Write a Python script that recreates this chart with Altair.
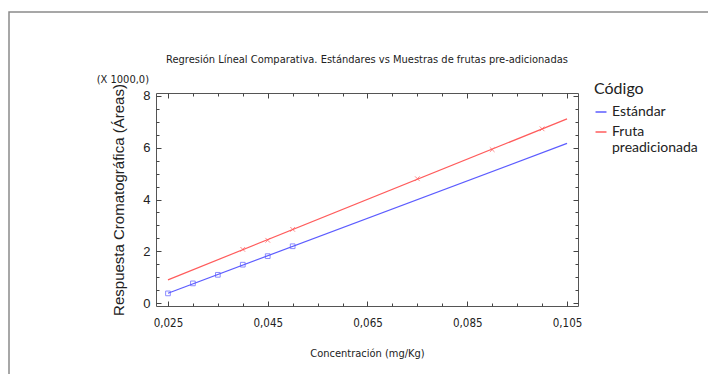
import altair as alt
import pandas as pd

# ---------------- data (areas in thousands) -------------
series_names = ["Estándar", "Fruta preadicionada"]
conc_est = [0.025, 0.030, 0.035, 0.040, 0.045, 0.050]
area_est = [0.385, 0.77, 1.10, 1.49, 1.82, 2.20]
conc_fru = [0.040, 0.045, 0.050, 0.075, 0.090, 0.100]
area_fru = [2.08, 2.43, 2.85, 4.80, 5.92, 6.72]
line_extent = [0.025, 0.105]

x_labels = [0.025, 0.045, 0.065, 0.085, 0.105]
x_ticks = [0.025, 0.030, 0.035, 0.040, 0.045, 0.050, 0.055, 0.060, 0.065,
           0.070, 0.075, 0.080, 0.085, 0.090, 0.095, 0.100, 0.105]
y_labels = [0, 2, 4, 6, 8]
y_ticks = [0, 0.5, 1, 1.5, 2, 2.5, 3, 3.5, 4, 4.5, 5, 5.5, 6, 6.5, 7, 7.5, 8]
colors = ["#5c5cff", "#ff5c5c"]

TITLE = "Regresión Líneal Comparativa. Estándares vs Muestras de frutas pre-adicionadas"
Y_TITLE = "Respuesta Cromatográfica (Áreas)"
X_TITLE = "Concentración (mg/Kg)"
UNIT = "(X 1000,0)"

W, H = 422, 213
NARROW = "DejaVu Sans Condensed, sans-serif"
SANS = "Liberation Sans, Arial, sans-serif"
LEG = "Lato, Open Sans, sans-serif"
TICK_COLOR = "#444444"

df = pd.DataFrame({
    "conc": conc_est + conc_fru,
    "area": area_est + area_fru,
    "serie": [series_names[0]] * len(conc_est) + [series_names[1]] * len(conc_fru),
})
one = pd.DataFrame({"k": [0]})

x_scale = alt.Scale(domain=[0.0226, 0.1072], nice=False, zero=False)
y_scale = alt.Scale(domain=[-0.1, 8.1], nice=False, zero=False)
c_scale = alt.Scale(domain=series_names, range=colors)

x_tick_size = {"condition": {"test": "abs((datum.value - 0.025) / 0.02 - round((datum.value - 0.025) / 0.02)) < 0.01", "value": 5}, "value": 3}
y_tick_size = {"condition": {"test": "abs(datum.value / 2 - round(datum.value / 2)) < 0.01", "value": 5}, "value": 3}

border = alt.Chart(one).mark_rect(fill="white", fillOpacity=0, stroke="#8a8a8a", strokeWidth=1.5).encode(
    x=alt.value(-147), x2=alt.value(700), y=alt.value(-81), y2=alt.value(420)
)

lines = alt.Chart(df).transform_regression(
    "conc", "area", groupby=["serie"], extent=line_extent
).mark_line(strokeWidth=1.2).encode(
    x=alt.X("conc:Q", scale=x_scale, axis=alt.Axis(
        values=x_labels, ticks=False, tickSize=0, domain=False, grid=False,
        labelExpr="replace(format(datum.value, '.3f'), '.', ',')",
        labelFont=NARROW, labelFontSize=11.5, labelColor="#222222", labelPadding=11,
        title=X_TITLE, titleFont=NARROW, titleFontSize=11, titleFontWeight="normal",
        titleColor="#222222", titleX=W / 2, titleY=47, titleBaseline="middle")),
    y=alt.Y("area:Q", scale=y_scale, axis=alt.Axis(
        values=y_labels, ticks=False, tickSize=0, domain=False, grid=False, format="d",
        labelFont=SANS, labelFontSize=13, labelColor="#222222", labelPadding=6,
        title=Y_TITLE, titleFont=SANS, titleFontSize=15, titleFontWeight="normal",
        titleColor="#222222", titleX=-38, titleY=H / 2, titleBaseline="middle",
        titleAlign="center", titleAngle=270)),
    color=alt.Color("serie:N", scale=c_scale, legend=alt.Legend(
        title="Código", orient="none", legendX=438, legendY=-12,
        symbolType="stroke", symbolSize=120, symbolStrokeWidth=1.5,
        titleFont=LEG, titleFontSize=16, titleFontWeight="normal", titleColor="#222222",
        titlePadding=8,
        labelFont=LEG, labelFontSize=14, labelColor="#222222",
        labelExpr="split(datum.label, ' ')", rowPadding=6, labelLimit=200,
    )),
)

points = alt.Chart(df).mark_point(filled=False, size=22, strokeWidth=1).encode(
    x=alt.X("conc:Q", scale=x_scale, axis=None),
    y=alt.Y("area:Q", scale=y_scale, axis=None),
    color=alt.Color("serie:N", scale=c_scale, legend=None),
    shape=alt.Shape("serie:N", scale=alt.Scale(domain=series_names,
                                               range=["square", "M-1,-1L1,1M-1,1L1,-1"]), legend=None),
)

def tick_layer(x_orient, y_orient):
    return alt.Chart(df).mark_point(opacity=0).encode(
        x=alt.X("conc:Q", scale=x_scale, axis=alt.Axis(
            orient=x_orient, offset=-H, values=x_ticks, labels=False, domain=False, grid=False,
            title=None, tickSize=x_tick_size, tickColor=TICK_COLOR, tickWidth=1)),
        y=alt.Y("area:Q", scale=y_scale, axis=alt.Axis(
            orient=y_orient, offset=-W, values=y_ticks, labels=False, domain=False, grid=False,
            title=None, tickSize=y_tick_size, tickColor=TICK_COLOR, tickWidth=1)),
    )

ticks_in_a = tick_layer("top", "right")     # drawn on bottom / left edges, pointing inward
ticks_in_b = tick_layer("bottom", "left")   # drawn on top / right edges, pointing inward

title_txt = alt.Chart(one).mark_text(
    text=TITLE, font=NARROW, fontSize=11, color="#222222", align="center", baseline="middle"
).encode(x=alt.value(W / 2), y=alt.value(-33))

unit_txt = alt.Chart(one).mark_text(
    text=UNIT, font=NARROW, fontSize=11, color="#222222", align="right", baseline="middle"
).encode(x=alt.value(-7), y=alt.value(-13))

chart = alt.layer(
    border, lines, points, ticks_in_a, ticks_in_b, title_txt, unit_txt
).resolve_axis(
    x="independent", y="independent"
).resolve_legend(
    color="independent", shape="independent"
).properties(
    width=W, height=H,
    autosize=alt.AutoSizeParams(type="none"),
    padding={"left": 148, "top": 85, "right": 130, "bottom": 68},
    background="white",
).configure_view(stroke="#555555", strokeWidth=1)

chart.save("out.html", embed_options={"renderer": "svg", "actions": False})
